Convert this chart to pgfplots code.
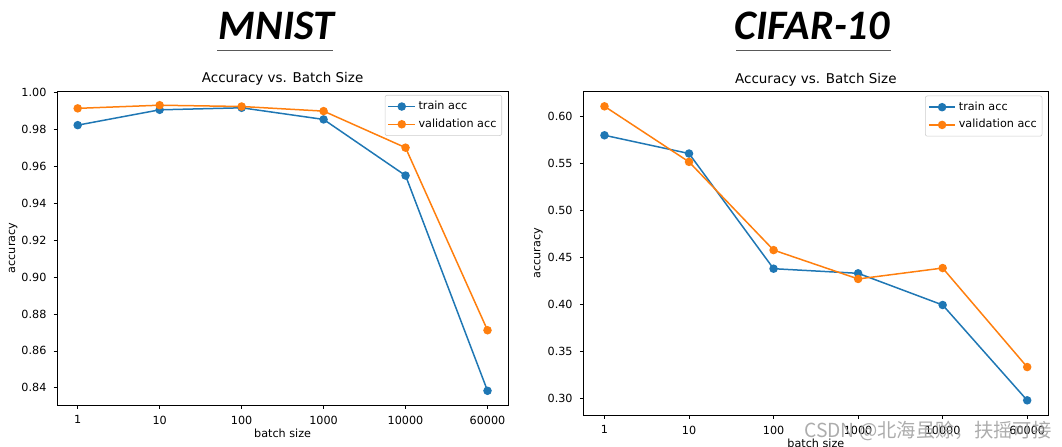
\documentclass[border=0pt]{standalone}
\usepackage{pgfplots}
\pgfplotsset{compat=1.18}
\usepackage{fontspec}
\setmainfont{DejaVu Sans}
\newfontfamily\cjk{Noto Sans CJK SC}
\newfontfamily\titlefont{Carlito}
\definecolor{tabblue}{HTML}{1F77B4}
\definecolor{taborange}{HTML}{FF7F0E}
\definecolor{legframe}{HTML}{CCCCCC}

\pgfplotsset{
 mystyle/.style={
  scale only axis,
  axis line style={line width=0.6pt},
  tick align=outside,
  xtick pos=bottom, ytick pos=left,
  major tick length=2.625pt,
  tick style={line width=0.6pt, black},
  xtick={0,1,2,3,4,5},
  xticklabels={1,10,100,1000,10000,60000},
  xmin=-0.25, xmax=5.25,
  scaled y ticks=false,
  /pgf/number format/assume math mode=true,
  ticklabel style={font=\fontsize{8.4}{10}\selectfont},
  yticklabel style={/pgf/number format/fixed, /pgf/number format/fixed zerofill, /pgf/number format/precision=2, inner sep=0pt, xshift=-5.25pt},
  xticklabel style={inner sep=0pt, yshift=-5.25pt},
  label style={font=\fontsize{8.4}{10}\selectfont},
  title style={font=\fontsize{10.1}{12}\selectfont, inner sep=0pt, yshift=-2.3pt},
  title={Accuracy vs. Batch Size},
  xlabel={batch size}, ylabel={accuracy},
  legend cell align=left,
  legend style={at={(1,1)}, anchor=north east, xshift=-4.5pt, yshift=-3pt,
    draw=legframe, rounded corners=1.5pt,
    font=\fontsize{8.4}{10}\selectfont, inner xsep=2pt, inner ysep=3pt, row sep=2.4pt,
    nodes={inner ysep=1.5pt, inner xsep=2pt, text height=6.2pt, text depth=1.7pt}},
  legend image code/.code={\draw[line width=1.125pt, mark repeat=2,mark phase=2] plot coordinates {(0pt,0pt)(10pt,0pt)(20pt,0pt)};},
  every axis plot/.append style={line width=1.125pt, mark=*, mark size=2.6pt, mark options={solid, line width=0pt}},
 }
}

\begin{document}
\begin{tikzpicture}[x=1pt,y=1pt]
\path[use as bounding box] (0,0) rectangle (796.5,334.5);

\begin{axis}[mystyle, at={(42.9pt,30.75pt)}, anchor=south west,
  width=338.1pt, height=235.5pt, ymin=0.8307, ymax=1.0008,
  ytick={0.84,0.86,0.88,0.90,0.92,0.94,0.96,0.98,1.00},
  xlabel style={at={(axis description cs:0.5,-0.0892)}, anchor=center},
  ylabel style={at={(axis description cs:-0.0975,0.5)}, anchor=center}]
\addplot[color=tabblue, mark options={fill=tabblue}] coordinates {(0,0.9823) (1,0.9906) (2,0.9917) (3,0.9854) (4,0.9550) (5,0.8384)};
\addlegendentry{train acc}
\addplot[color=taborange, mark options={fill=taborange}] coordinates {(0,0.9914) (1,0.9931) (2,0.9924) (3,0.9899) (4,0.9701) (5,0.8712)};
\addlegendentry{validation acc}
\end{axis}

\begin{axis}[mystyle, at={(437.5pt,23.25pt)}, anchor=south west,
  width=348.75pt, height=242.5pt, ymin=0.2823, ymax=0.6262,
  ytick={0.30,0.35,0.40,0.45,0.50,0.55,0.60},
  xlabel style={at={(axis description cs:0.5,-0.0866)}, anchor=center},
  ylabel style={at={(axis description cs:-0.0968,0.5)}, anchor=center}]
\addplot[color=tabblue, mark options={fill=tabblue}] coordinates {(0,0.5798) (1,0.5604) (2,0.4379) (3,0.4330) (4,0.3993) (5,0.2979)};
\addlegendentry{train acc}
\addplot[color=taborange, mark options={fill=taborange}] coordinates {(0,0.6106) (1,0.5515) (2,0.4577) (3,0.4270) (4,0.4386) (5,0.3333)};
\addlegendentry{validation acc}
\end{axis}

\node[font=\titlefont\bfseries\itshape\fontsize{31.5}{36}\selectfont, anchor=base, inner sep=0pt] at (207.4,305) {MNIST};
\draw[line width=1.2pt, color=black!65] (163.1,296.6) -- (250.1,296.6);
\node[font=\titlefont\bfseries\itshape\fontsize{31.5}{36}\selectfont, anchor=base, inner sep=0pt] at (609,305) {CIFAR-10};
\draw[line width=1.2pt, color=black!65] (552,296.6) -- (667.9,296.6);

\node[font=\cjk\fontsize{14.5}{17}\selectfont, text=black!38, opacity=0.85, anchor=west, inner sep=0pt] at (603,11.25) {CSDN @北海虽赊，扶摇可接};
\end{tikzpicture}
\end{document}
